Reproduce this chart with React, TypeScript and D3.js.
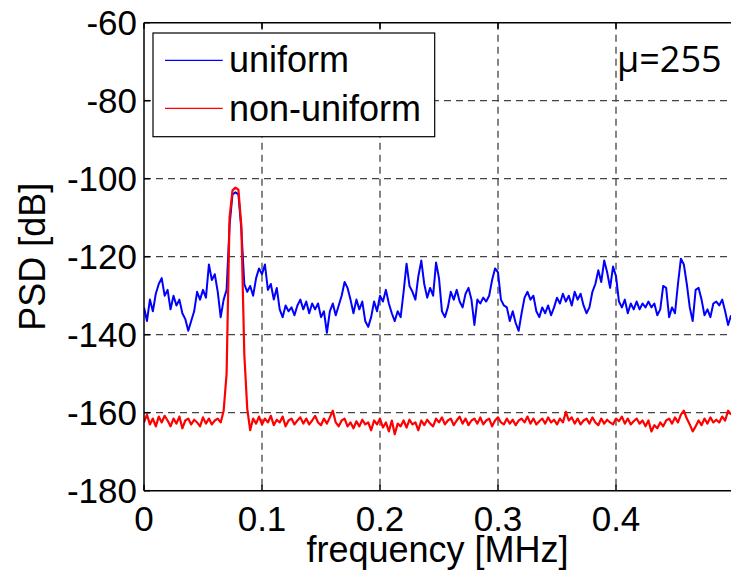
import React from "react";
import * as d3 from "d3";

const FREQ_STEP = 0.0025; // MHz between samples

const uniformPSD: number[] = [
  -133, -136.5, -131, -134, -129.5, -127, -125.5, -130, -128.5, -133.5,
  -130, -132.5, -131, -134.5, -136, -139, -136.5, -134, -129, -131,
  -128.5, -130.5, -122, -126, -124.5, -129, -135.5, -131, -128.5, -112,
  -104, -103.5, -104, -113, -127, -129, -127.5, -130, -125.5, -123,
  -124.5, -122, -128.5, -127, -131, -128, -133.5, -135.5, -132.5, -134,
  -133, -135, -132.5, -131, -133.5, -131.5, -134.5, -132, -133.5, -132,
  -135.5, -134, -139.5, -134, -132, -135, -132.5, -130, -126.5, -128,
  -131, -134.5, -131, -133.5, -131.5, -136.5, -138, -135.5, -131.5, -134,
  -130, -131.5, -128.5, -132, -134.5, -136.5, -134, -135.5, -129, -121.8,
  -127.5, -129, -131, -125, -121, -127, -130.5, -128, -130, -121.5,
  -125.5, -134, -135.5, -133, -129, -131, -128.5, -131.5, -133, -129.5,
  -128, -131, -137.5, -131, -132, -130.5, -131.5, -130, -126, -123,
  -124, -131, -132.5, -133, -136.5, -134, -137, -139, -134.5, -130.5,
  -129, -131, -130, -134, -135.5, -133, -134.5, -132.5, -135, -133,
  -130.5, -132, -129.5, -131.5, -130, -132.5, -129, -131, -129.5, -132.5,
  -134.5, -133, -129, -127, -123.5, -126.5, -121, -124, -128, -122.5,
  -125, -131.5, -133, -131, -134.5, -132, -133.5, -131.5, -133.5, -132,
  -133, -131.5, -133, -132, -135, -133.5, -127.5, -128, -135.5, -133,
  -134.5, -127, -120.5, -122, -127, -133, -136.5, -128.5, -128, -131,
  -135, -133.5, -135.5, -132, -131.5, -132.5, -131, -134, -137.5, -135,
];

const nonUniformPSD: number[] = [
  -162.5, -160.5, -163, -161.5, -163.5, -161, -162.5, -160.8, -162, -163.5,
  -161.5, -162.8, -161, -164, -162, -161.5, -163, -161.8, -162.5, -163.5,
  -161.2, -162.8, -161.5, -163, -162, -161.5, -162.5, -159.5, -150, -110,
  -103, -102.3, -102.8, -112, -145, -159, -164.5, -161.5, -162.8, -161,
  -163, -161.5, -162.5, -160.8, -163.2, -161.8, -162.5, -161, -163.5, -162,
  -161.5, -163, -162, -161.2, -162.8, -161.5, -163, -162, -160.8, -162.5,
  -163.2, -161.5, -162.8, -161.2, -159.5, -162.5, -163.5, -162, -161.5, -163.5,
  -162.5, -164, -162.2, -163.5, -161.8, -163, -162.5, -164.5, -162, -163,
  -161.5, -163.8, -162.5, -164.8, -162, -165.5, -162.8, -163.5, -162, -163.8,
  -161.8, -163, -162.5, -164.5, -162, -163.2, -161.8, -162.8, -163.5, -161.5,
  -162.5, -161.2, -163, -162, -161.5, -163.2, -162, -161, -162.8, -161.5,
  -163.2, -162, -161.5, -162.8, -161.2, -163, -162, -161.5, -163.5, -162,
  -161.2, -162.5, -163, -161.5, -162.8, -161.8, -163.2, -162, -161.5, -162.5,
  -161, -162.8, -161.5, -163, -162.2, -161.5, -162.8, -161.2, -162.5, -161.8,
  -163, -161.5, -162.5, -159.8, -162, -161.2, -162.8, -161.5, -163, -162,
  -161.5, -162.8, -161.2, -162.5, -163.2, -161.5, -162.8, -161.8, -162.5, -163,
  -161.5, -162.2, -161, -162.8, -161.5, -163, -162.2, -161.5, -162.8, -162,
  -163.5, -162, -164.8, -163.2, -164, -162.5, -163.5, -162, -161.5, -162.8,
  -161.2, -162.5, -160.5, -159.5, -161.5, -163, -164.8, -163.5, -162, -163.2,
  -161.5, -162.8, -161.2, -162.5, -161.8, -162.5, -161, -162, -159.5, -160.5,
];

const xTicks = [0, 0.1, 0.2, 0.3, 0.4, 0.5];
const xTickLabels = ["0", "0.1", "0.2", "0.3", "0.4", "0.5"];
const yTicks = [-180, -160, -140, -120, -100, -80, -60];
const seriesNames = ["uniform", "non-uniform"];
const seriesColors = ["#0000ff", "#ff0000"];
const annotation = "μ=255";
const xLabel = "frequency [MHz]";
const yLabel = "PSD [dB]";

const W = 731;
const H = 577;
const M = { left: 144, top: 22.7, right: 734, bottom: 490.7 };

export default function App() {
  const x = d3.scaleLinear().domain([0, 0.5]).range([M.left, M.right]);
  const y = d3.scaleLinear().domain([-180, -60]).range([M.bottom, M.top]);

  const line = d3
    .line<number>()
    .x((_, i) => x(i * FREQ_STEP))
    .y((d) => y(d));

  const font = "'Liberation Sans', Arial, sans-serif";
  const tickLen = 6;

  return (
    <svg
      width={W}
      height={H}
      style={{ position: "absolute", left: 0, top: 0, background: "#fff" }}
    >
      <defs>
        <clipPath id="plotClip">
          <rect x={M.left} y={M.top} width={M.right - M.left} height={M.bottom - M.top} />
        </clipPath>
      </defs>
      <rect x={0} y={0} width={W} height={H} fill="#fff" />

      {/* grid */}
      <g stroke="#444" strokeWidth={1.3} strokeDasharray="7,5" fill="none">
        {xTicks
          .filter((t) => t > 0 && t < 0.5)
          .map((t) => (
            <line key={"gx" + t} x1={x(t)} x2={x(t)} y1={M.top} y2={M.bottom} />
          ))}
        {yTicks
          .filter((t) => t > -180 && t < -60)
          .map((t) => (
            <line key={"gy" + t} x1={M.left} x2={M.right} y1={y(t)} y2={y(t)} />
          ))}
      </g>

      {/* data */}
      <g clipPath="url(#plotClip)" fill="none" strokeLinejoin="round">
        <path d={line(uniformPSD) || ""} stroke={seriesColors[0]} strokeWidth={2} />
        <path d={line(nonUniformPSD) || ""} stroke={seriesColors[1]} strokeWidth={2.2} />
      </g>

      {/* axes box */}
      <g stroke="#000" strokeWidth={1.5} fill="none">
        <line x1={M.left} x2={M.left} y1={M.top} y2={M.bottom} />
        <line x1={M.left} x2={M.right} y1={M.bottom} y2={M.bottom} />
        <line x1={M.left} x2={M.right} y1={M.top} y2={M.top} />
        {xTicks.map((t) => (
          <g key={"tx" + t}>
            <line x1={x(t)} x2={x(t)} y1={M.bottom} y2={M.bottom - tickLen} />
            <line x1={x(t)} x2={x(t)} y1={M.top} y2={M.top + tickLen} />
          </g>
        ))}
        {yTicks.map((t) => (
          <line key={"ty" + t} x1={M.left} x2={M.left + tickLen} y1={y(t)} y2={y(t)} />
        ))}
      </g>

      {/* tick labels (0.5 lies beyond the visible frame) */}
      <g fontFamily={font} fontSize={35} fill="#000">
        {xTicks
          .filter((t) => x(t) < W - 10)
          .map((t, i) => (
            <text key={"lx" + t} x={x(t)} y={M.bottom + 40.5} textAnchor="middle">
              {xTickLabels[i]}
            </text>
          ))}
        {yTicks.map((t) => (
          <text
            key={"ly" + t}
            x={M.left - 7}
            y={y(t)}
            textAnchor="end"
            dominantBaseline="central"
          >
            {t}
          </text>
        ))}
      </g>

      {/* axis labels */}
      <text
        x={(M.left + 731) / 2}
        y={562}
        textAnchor="middle"
        fontFamily={font}
        fontSize={36}
        fill="#000"
      >
        {xLabel}
      </text>
      <text
        transform={`translate(45, ${(M.top + M.bottom) / 2}) rotate(-90)`}
        textAnchor="middle"
        fontFamily={font}
        fontSize={36}
        fill="#000"
      >
        {yLabel}
      </text>

      {/* annotation */}
      <text x={617} y={72} fontFamily="'Open Sans', sans-serif" fontSize={36} fill="#000">
        {annotation}
      </text>

      {/* legend */}
      <g>
        <rect x={153} y={33} width={281.7} height={103.7} fill="#fff" stroke="#000" strokeWidth={1.2} />
        {seriesNames.map((name, i) => {
          const ly = 60.3 + i * 48;
          return (
            <g key={name}>
              <line x1={165} x2={222.7} y1={ly} y2={ly} stroke={seriesColors[i]} strokeWidth={1.3} />
              <text x={229} y={72 + i * 49} fontFamily={font} fontSize={36} fill="#000">
                {name}
              </text>
            </g>
          );
        })}
      </g>
    </svg>
  );
}
